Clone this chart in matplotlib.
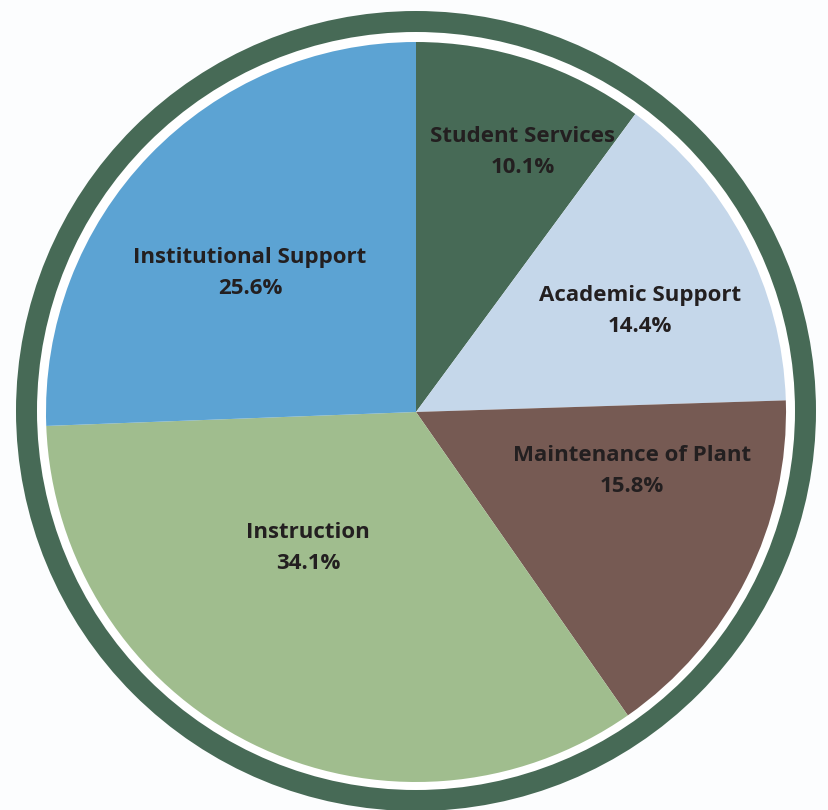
import matplotlib
matplotlib.use("Agg")
import matplotlib.pyplot as plt
from matplotlib.patches import Circle

# Data
categories = ["Student Services", "Academic Support", "Maintenance of Plant",
              "Instruction", "Institutional Support"]
shares = [10.1, 14.4, 15.8, 34.1, 25.6]
colors = ["#476a56", "#c5d7ea", "#765a53", "#a0bd8e", "#5ca3d3"]

# Layout (pixel coordinates, y measured from top)
W, H = 829, 810
cx, cy = 416, 412
pie_r = 370
ring_c = (416, 411)
gap_r = 379
ring_r = 400
ring_color = "#476a56"
label_pos = [(523, 152), (640, 311), (632, 471), (308, 548), (250, 273)]

fig = plt.figure(figsize=(W / 100, H / 100), dpi=100)
fig.patch.set_facecolor("#fcfdfe")
ax = fig.add_axes([0, 0, 1, 1])
ax.set_facecolor("none")

ax.add_patch(Circle((ring_c[0], H - ring_c[1]), ring_r, facecolor=ring_color,
                    edgecolor="none", zorder=0))
ax.add_patch(Circle((ring_c[0], H - ring_c[1]), gap_r, facecolor="white",
                    edgecolor="none", zorder=0.5))

wedges, _ = ax.pie(shares, colors=colors, startangle=90, counterclock=False,
                   center=(cx, H - cy), radius=pie_r, frame=True,
                   wedgeprops=dict(linewidth=0, edgecolor="none"))
for w in wedges:
    w.set_zorder(1)

for name, val, (x, y) in zip(categories, shares, label_pos):
    ax.text(x, H - y, f"{name}\n{val:.1f}%", ha="center", va="center",
            fontsize=16, fontweight="bold", family=["Open Sans", "DejaVu Sans"],
            color="#231f20", linespacing=1.6, zorder=3)

ax.set_xlim(0, W)
ax.set_ylim(0, H)
ax.set_aspect("equal")
ax.axis("off")
fig.savefig("out.png", dpi=100, facecolor=fig.get_facecolor())
